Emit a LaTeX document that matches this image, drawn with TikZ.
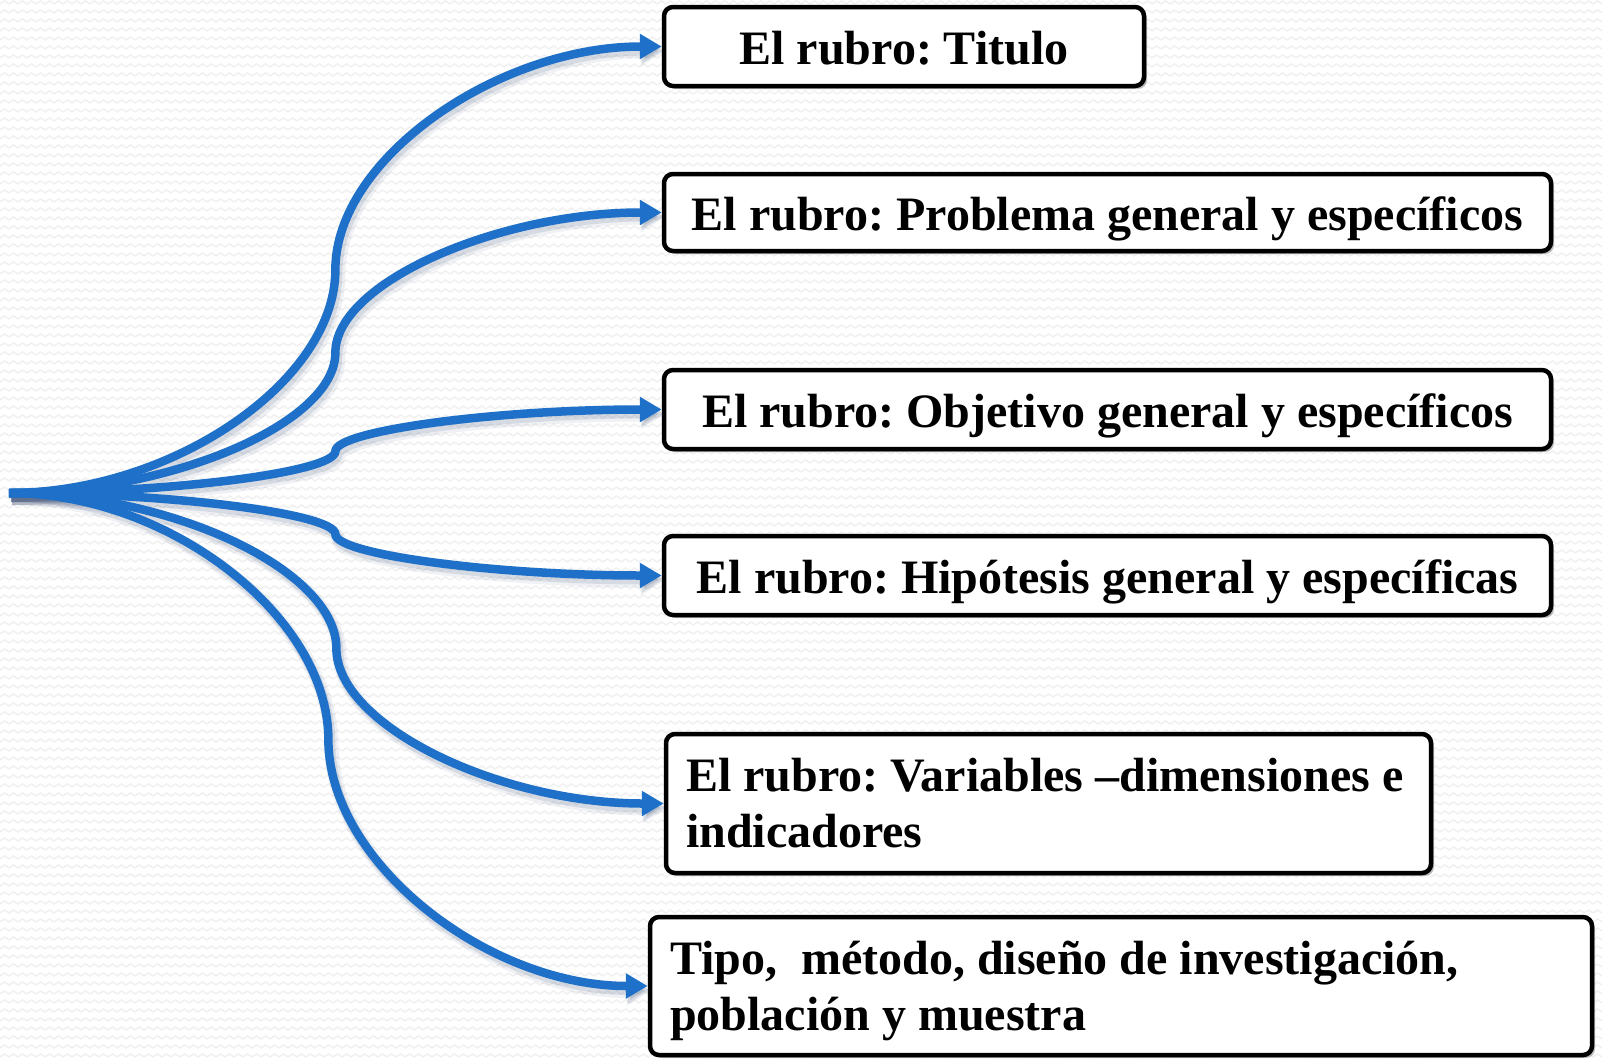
\documentclass[tikz,border=0pt]{standalone}
\usepackage{fontspec}
\setmainfont{Liberation Serif}
\usetikzlibrary{arrows.meta,shadows,patterns,calc}
\definecolor{linkblue}{HTML}{1E70C8}
\definecolor{shadowblue}{HTML}{283C64}
\pgfdeclarepatternformonly{bgzig}{\pgfqpoint{-1pt}{-1pt}}{\pgfqpoint{10pt}{10pt}}{\pgfqpoint{9pt}{9pt}}{%
  \pgfsetlinewidth{1.4pt}%
  \pgfpathmoveto{\pgfqpoint{0pt}{3pt}}%
  \pgfpathlineto{\pgfqpoint{4.5pt}{6pt}}%
  \pgfpathlineto{\pgfqpoint{9pt}{3pt}}%
  \pgfusepath{stroke}}
\tikzset{
  box/.style={draw=black, line width=4.5pt, rounded corners=9pt, fill=white,
    font=\frenchspacing\bfseries\fontsize{48}{56}\selectfont, inner sep=0pt,
    drop shadow={shadow xshift=3pt, shadow yshift=-3pt, opacity=0.25, fill=black}},
  oneline/.style={text height=40pt, text depth=5pt},
  twoline/.style={inner xsep=20pt, align=flush left},
  link/.style={draw=linkblue, line width=8.5pt, line cap=butt,
    -{Triangle[length=22pt,width=24pt]}},
  linkshadowA/.style={draw=shadowblue, line width=14pt, opacity=0.07,
    -{Triangle[length=24pt,width=28pt]}},
  linkshadowB/.style={draw=shadowblue, line width=10pt, opacity=0.12,
    -{Triangle[length=22pt,width=25pt]}}
}
\begin{document}
\begin{tikzpicture}[x=1pt,y=-1pt]
\useasboundingbox (0,0) rectangle (1602,1060);
\fill[white] (0,0) rectangle (1602,1060);
\fill[pattern=bgzig, pattern color=black!6] (0,0) rectangle (1602,1060);

\coordinate (o) at (9,493);

\node[box, oneline, minimum width=480pt, minimum height=79pt] (b1) at (904,46.5) {El rubro: Titulo};
\node[box, oneline, minimum width=887pt, minimum height=77pt] (b2) at (1107.5,212.5) {El rubro: Problema general y específicos};
\node[box, oneline, minimum width=887pt, minimum height=79pt] (b3) at (1107.5,409.5) {El rubro: Objetivo general y específicos};
\node[box, oneline, minimum width=887pt, minimum height=79pt] (b4) at (1107.5,575.5) {El rubro: Hipótesis general y específicas};
\node[box, twoline, text width=725pt, minimum width=765pt, minimum height=139pt] (b5) at (1048.5,803.5)
  {El rubro: Variables –dimensiones e\\indicadores};
\node[box, twoline, text width=902pt, minimum width=942pt, minimum height=138pt] (b6) at (1121,986)
  {Tipo,\ \ método, diseño de investigación,\\\smash{población y muestra}};

\foreach \b in {b1,b2,b3,b4,b5,b6} {
  \draw[linkshadowA] let \p1=($(o)+(3,5)$), \p2=($(\b.west)+(3,5)$) in
    (\p1) .. controls ({(3*\x1+\x2)/4},\y1) and ({(\x1+\x2)/2},{(3*\y1+\y2)/4}) ..
    ({(\x1+\x2)/2},{(\y1+\y2)/2}) .. controls ({(\x1+\x2)/2},{(\y1+3*\y2)/4}) and ({(\x1+3*\x2)/4},\y2) .. (\p2);
  \draw[linkshadowB] let \p1=($(o)+(2,4)$), \p2=($(\b.west)+(2,4)$) in
    (\p1) .. controls ({(3*\x1+\x2)/4},\y1) and ({(\x1+\x2)/2},{(3*\y1+\y2)/4}) ..
    ({(\x1+\x2)/2},{(\y1+\y2)/2}) .. controls ({(\x1+\x2)/2},{(\y1+3*\y2)/4}) and ({(\x1+3*\x2)/4},\y2) .. (\p2);
}
\foreach \b in {b1,b2,b3,b4,b5,b6} {
  \draw[link] let \p1=(o), \p2=(\b.west) in
    (o) .. controls ({(3*\x1+\x2)/4},\y1) and ({(\x1+\x2)/2},{(3*\y1+\y2)/4}) ..
    ({(\x1+\x2)/2},{(\y1+\y2)/2}) .. controls ({(\x1+\x2)/2},{(\y1+3*\y2)/4}) and ({(\x1+3*\x2)/4},\y2) .. (\b.west);
}
\end{tikzpicture}
\end{document}
